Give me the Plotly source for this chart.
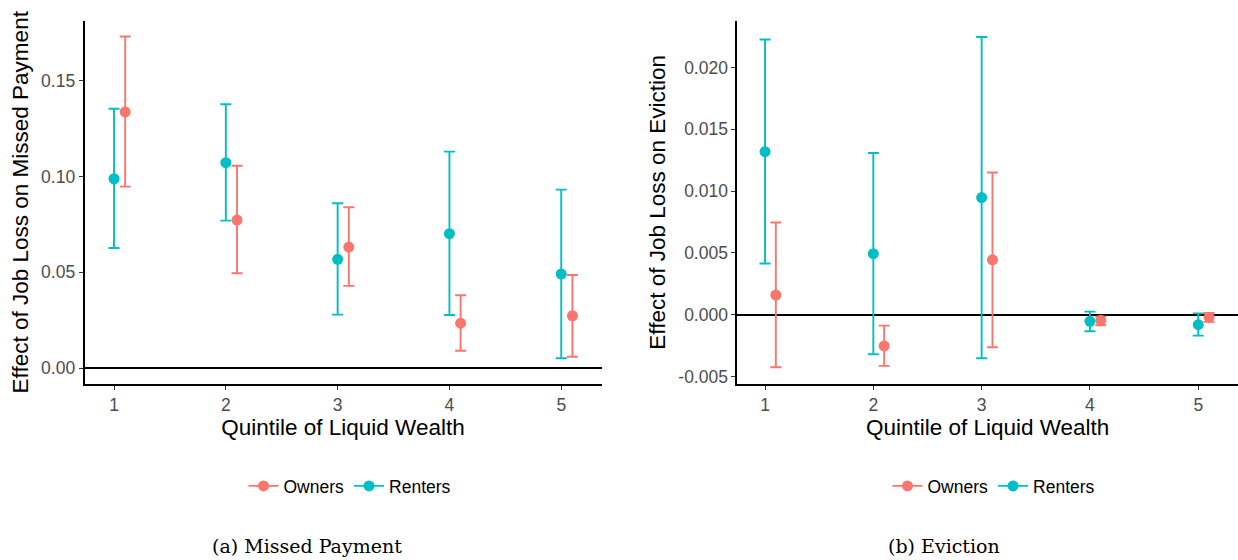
import plotly.graph_objects as go

# ---------------- data ----------------
quintiles = [1, 2, 3, 4, 5]
x_ticklabels = ["1", "2", "3", "4", "5"]

# Panel (a): Missed payment
mp_owners = [0.1338, 0.0773, 0.0632, 0.0234, 0.0273]
mp_owners_lo = [0.0948, 0.0495, 0.0429, 0.0090, 0.0059]
mp_owners_hi = [0.1732, 0.1057, 0.0840, 0.0380, 0.0486]
mp_renters = [0.0989, 0.1073, 0.0568, 0.0702, 0.0491]
mp_renters_lo = [0.0627, 0.0770, 0.0279, 0.0277, 0.0051]
mp_renters_hi = [0.1355, 0.1378, 0.0861, 0.1131, 0.0932]

# Panel (b): Eviction
ev_owners = [0.00159, -0.00253, 0.00444, -0.00046, -0.00022]
ev_owners_lo = [-0.00426, -0.00415, -0.00264, -0.00086, -0.00059]
ev_owners_hi = [0.00746, -0.00089, 0.01150, -0.00016, 0.00014]
ev_renters = [0.01319, 0.00493, 0.00948, -0.00054, -0.00081]
ev_renters_lo = [0.00414, -0.00321, -0.00353, -0.00135, -0.00170]
ev_renters_hi = [0.02227, 0.01309, 0.02248, 0.00024, 0.00010]

y1_ticks = [0.0, 0.05, 0.10, 0.15]
y1_ticklabels = ["0.00", "0.05", "0.10", "0.15"]
y2_ticks = [-0.005, 0.0, 0.005, 0.010, 0.015, 0.020]
y2_ticklabels = ["-0.005", "0.000", "0.005", "0.010", "0.015", "0.020"]

series_names = ["Owners", "Renters"]
colors = {"Owners": "#F8766D", "Renters": "#00BFC4"}
dodge = {"Owners": 0.1, "Renters": 0.0}

x_title = "Quintile of Liquid Wealth"
y1_title = "Effect of Job Loss on Missed Payment"
y2_title = "Effect of Job Loss on Eviction"
caption_a = "(a) Missed Payment"
caption_b = "(b) Eviction"

# ---------------- figure ----------------
W, H = 1238, 560
SANS = "Liberation Sans, Arial, Helvetica, sans-serif"

fig = go.Figure()

panels = [
    ("x", "y", "legend", {"Owners": (mp_owners, mp_owners_lo, mp_owners_hi),
                           "Renters": (mp_renters, mp_renters_lo, mp_renters_hi)}),
    ("x2", "y2", "legend2", {"Owners": (ev_owners, ev_owners_lo, ev_owners_hi),
                              "Renters": (ev_renters, ev_renters_lo, ev_renters_hi)}),
]

for xa, ya, lg, d in panels:
    for name in ["Renters", "Owners"]:
        est, lo, hi = d[name]
        xs = [q + dodge[name] for q in quintiles]
        fig.add_trace(go.Scatter(
            x=xs, y=est, xaxis=xa, yaxis=ya, mode="markers", name=name,
            showlegend=False,
            marker=dict(color=colors[name], size=11, line=dict(width=0)),
            error_y=dict(type="data", symmetric=False,
                         array=[h - e for h, e in zip(hi, est)],
                         arrayminus=[e - l for e, l in zip(est, lo)],
                         color=colors[name], thickness=1.9, width=5.5),
        ))
    # legend entries
    for name in series_names:
        fig.add_trace(go.Scatter(
            x=[None], y=[None], xaxis=xa, yaxis=ya, mode="lines+markers",
            name=name, legend=lg, showlegend=True,
            marker=dict(color=colors[name], size=11),
            line=dict(color=colors[name], width=1.9),
        ))

ydom = [1 - 384 / H, 1 - 20.5 / H]

axis_common = dict(
    showline=True, linecolor="black", linewidth=1.7,
    ticks="outside", ticklen=4, tickwidth=1.3, tickcolor="#333333",
    showgrid=False, automargin=False,
    tickfont=dict(family=SANS, size=17.5, color="#4D4D4D"),
)
title_font = dict(family=SANS, size=22.5, color="black")

fig.update_layout(
    width=W, height=H, autosize=False,
    margin=dict(l=0, r=0, t=0, b=0),
    paper_bgcolor="white", plot_bgcolor="white",
    xaxis=dict(domain=[84.5 / W, 601.5 / W], range=[0.736, 5.36],
               tickvals=quintiles, ticktext=x_ticklabels, zeroline=False,
               title=dict(text=x_title, standoff=2, font=title_font),
               anchor="y", **axis_common),
    yaxis=dict(domain=ydom, range=[-0.00836, 0.1816],
               tickvals=y1_ticks, ticktext=y1_ticklabels,
               zeroline=True, zerolinecolor="black", zerolinewidth=1.5,
               title=dict(text=y1_title, standoff=6, font=title_font),
               anchor="x", **axis_common),
    xaxis2=dict(domain=[737.3 / W, 1.0], range=[0.744, 5.367],
                tickvals=quintiles, ticktext=x_ticklabels, zeroline=False,
                title=dict(text=x_title, standoff=2, font=title_font),
                anchor="y2", **axis_common),
    yaxis2=dict(domain=ydom, range=[-0.005615, 0.02381],
                tickvals=y2_ticks, ticktext=y2_ticklabels,
                zeroline=True, zerolinecolor="black", zerolinewidth=1.5,
                title=dict(text=y2_title, standoff=6, font=title_font),
                anchor="x2", **axis_common),
    legend=dict(orientation="h", x=350 / W, xanchor="center",
                y=1 - 486 / H, yanchor="middle",
                font=dict(family=SANS, size=17.5, color="black"),
                bgcolor="rgba(0,0,0,0)", itemwidth=30),
    legend2=dict(orientation="h", x=994 / W, xanchor="center",
                 y=1 - 486 / H, yanchor="middle",
                 font=dict(family=SANS, size=17.5, color="black"),
                 bgcolor="rgba(0,0,0,0)", itemwidth=30),
    annotations=[
        dict(text=caption_a, xref="paper", yref="paper",
             x=307 / W, y=1 - 546 / H, xanchor="center", yanchor="middle",
             showarrow=False,
             font=dict(family="DejaVu Serif, serif", size=19, color="black")),
        dict(text=caption_b, xref="paper", yref="paper",
             x=944 / W, y=1 - 546 / H, xanchor="center", yanchor="middle",
             showarrow=False,
             font=dict(family="DejaVu Serif, serif", size=19, color="black")),
    ],
)

fig.write_html("out.html",
               config={"displayModeBar": False},
               post_script="document.body.style.margin='0';document.body.style.padding='0';")
